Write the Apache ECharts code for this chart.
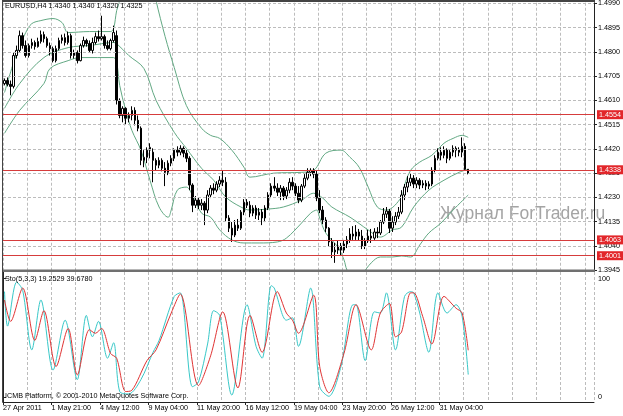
<!DOCTYPE html>
<html><head><meta charset="utf-8">
<script src="https://cdn.jsdelivr.net/npm/echarts@6/dist/echarts.min.js"></script>
<style>html,body{margin:0;padding:0;background:#fff}#c{width:623px;height:416px}</style>
</head><body><div id="c"></div>
<script>
const symbolName = 'EURUSD,H4';
const openP = [
1.4676,1.4688,1.4673,1.4665,1.4786,1.4806,1.4864,1.4825,1.4786,1.4825,
1.4837,1.4821,1.4841,1.4868,1.4852,1.4825,1.4813,1.4766,1.4813,1.4845,
1.4856,1.4837,1.4864,1.4786,1.4798,1.4766,1.4825,1.4845,1.4833,1.4806,
1.4837,1.4860,1.4852,1.4860,1.4825,1.4813,1.4845,1.4864,1.4610,1.4551,
1.4579,1.4540,1.4551,1.4571,1.4532,1.4501,1.4375,1.4387,1.4415,1.4407,
1.4375,1.4356,1.4375,1.4344,1.4328,1.4364,1.4383,1.4415,1.4407,1.4422,
1.4403,1.4383,1.4278,1.4199,1.4219,1.4199,1.4207,1.4180,1.4239,1.4266,
1.4258,1.4282,1.4297,1.4289,1.4149,1.4109,1.4082,1.4121,1.4109,1.4172,
1.4211,1.4199,1.4168,1.4188,1.4160,1.4172,1.4149,1.4188,1.4239,1.4274,
1.4266,1.4250,1.4266,1.4235,1.4258,1.4289,1.4274,1.4246,1.4219,1.4274,
1.4305,1.4328,1.4336,1.4321,1.4227,1.4180,1.4141,1.4109,1.4055,1.4016,
1.4023,1.4039,1.4023,1.4047,1.4063,1.4086,1.4078,1.4094,1.4078,1.4039,
1.4059,1.4078,1.4070,1.4094,1.4090,1.4133,1.4164,1.4176,1.4109,1.4133,
1.4156,1.4172,1.4239,1.4270,1.4289,1.4305,1.4282,1.4297,1.4278,1.4285,
1.4274,1.4282,1.4336,1.4383,1.4407,1.4395,1.4415,1.4383,1.4407,1.4422,
1.4415,1.4407,1.4430,1.4340];
const closeP = [
1.4688,1.4673,1.4665,1.4786,1.4806,1.4864,1.4825,1.4786,1.4825,1.4837,
1.4821,1.4841,1.4868,1.4852,1.4825,1.4813,1.4766,1.4813,1.4845,1.4856,
1.4837,1.4864,1.4786,1.4798,1.4766,1.4825,1.4845,1.4833,1.4806,1.4837,
1.4860,1.4852,1.4860,1.4825,1.4813,1.4845,1.4876,1.4610,1.4551,1.4579,
1.4540,1.4551,1.4571,1.4532,1.4501,1.4375,1.4387,1.4415,1.4426,1.4375,
1.4356,1.4375,1.4344,1.4328,1.4364,1.4383,1.4415,1.4407,1.4422,1.4403,
1.4383,1.4278,1.4199,1.4219,1.4199,1.4207,1.4180,1.4239,1.4266,1.4258,
1.4282,1.4297,1.4289,1.4149,1.4109,1.4082,1.4121,1.4109,1.4172,1.4211,
1.4199,1.4168,1.4188,1.4160,1.4172,1.4149,1.4188,1.4239,1.4274,1.4266,
1.4250,1.4266,1.4235,1.4258,1.4289,1.4274,1.4246,1.4219,1.4274,1.4305,
1.4328,1.4336,1.4321,1.4227,1.4180,1.4141,1.4109,1.4055,1.4016,1.4023,
1.4039,1.4023,1.4047,1.4063,1.4086,1.4078,1.4094,1.4078,1.4039,1.4059,
1.4078,1.4070,1.4094,1.4090,1.4133,1.4164,1.4176,1.4109,1.4133,1.4156,
1.4172,1.4239,1.4270,1.4289,1.4305,1.4282,1.4297,1.4278,1.4285,1.4274,
1.4282,1.4336,1.4383,1.4407,1.4395,1.4415,1.4383,1.4407,1.4422,1.4415,
1.4407,1.4430,1.4340,1.4325];
const lowP = [
1.4669,1.4665,1.4630,1.4657,1.4774,1.4798,1.4813,1.4778,1.4778,1.4813,
1.4809,1.4817,1.4833,1.4837,1.4817,1.4786,1.4759,1.4759,1.4806,1.4833,
1.4825,1.4829,1.4774,1.4774,1.4755,1.4763,1.4817,1.4821,1.4798,1.4794,
1.4829,1.4841,1.4845,1.4813,1.4806,1.4806,1.4837,1.4594,1.4540,1.4524,
1.4516,1.4524,1.4532,1.4512,1.4489,1.4356,1.4348,1.4364,1.4383,1.4289,
1.4336,1.4344,1.4332,1.4274,1.4317,1.4352,1.4372,1.4391,1.4395,1.4387,
1.4368,1.4258,1.4172,1.4188,1.4184,1.4180,1.4121,1.4168,1.4227,1.4242,
1.4250,1.4270,1.4274,1.4137,1.4094,1.4055,1.4074,1.4098,1.4102,1.4160,
1.4188,1.4152,1.4156,1.4145,1.4141,1.4121,1.4133,1.4180,1.4227,1.4254,
1.4235,1.4219,1.4219,1.4223,1.4246,1.4258,1.4235,1.4207,1.4211,1.4266,
1.4297,1.4313,1.4305,1.4215,1.4168,1.4125,1.4094,1.4039,1.3992,1.3973,
1.4008,1.4000,1.4012,1.4031,1.4051,1.4063,1.4063,1.4059,1.4027,1.4027,
1.4051,1.4051,1.4063,1.4070,1.4082,1.4125,1.4149,1.4090,1.4094,1.4121,
1.4145,1.4164,1.4219,1.4250,1.4274,1.4266,1.4266,1.4262,1.4266,1.4258,
1.4262,1.4274,1.4328,1.4375,1.4375,1.4383,1.4364,1.4375,1.4391,1.4387,
1.4391,1.4387,1.4336,1.4320];
const highP = [
1.4696,1.4700,1.4688,1.4798,1.4825,1.4884,1.4876,1.4845,1.4833,1.4852,
1.4845,1.4856,1.4884,1.4880,1.4860,1.4837,1.4821,1.4825,1.4856,1.4868,
1.4872,1.4880,1.4872,1.4809,1.4806,1.4833,1.4860,1.4852,1.4845,1.4856,
1.4876,1.4884,1.4942,1.4868,1.4845,1.4852,1.4903,1.4884,1.4618,1.4587,
1.4583,1.4563,1.4587,1.4583,1.4551,1.4508,1.4415,1.4426,1.4442,1.4422,
1.4383,1.4387,1.4383,1.4368,1.4375,1.4395,1.4422,1.4430,1.4434,1.4430,
1.4415,1.4391,1.4285,1.4235,1.4231,1.4223,1.4215,1.4258,1.4278,1.4285,
1.4293,1.4313,1.4336,1.4309,1.4160,1.4133,1.4141,1.4145,1.4180,1.4223,
1.4223,1.4215,1.4199,1.4199,1.4188,1.4184,1.4199,1.4250,1.4285,1.4309,
1.4285,1.4278,1.4274,1.4270,1.4305,1.4309,1.4285,1.4274,1.4282,1.4321,
1.4344,1.4344,1.4344,1.4336,1.4258,1.4196,1.4152,1.4113,1.4070,1.4051,
1.4059,1.4051,1.4063,1.4078,1.4109,1.4117,1.4121,1.4106,1.4102,1.4070,
1.4102,1.4106,1.4109,1.4113,1.4141,1.4188,1.4192,1.4184,1.4156,1.4172,
1.4192,1.4258,1.4282,1.4313,1.4325,1.4317,1.4309,1.4305,1.4297,1.4297,
1.4293,1.4348,1.4395,1.4422,1.4426,1.4430,1.4422,1.4415,1.4434,1.4430,
1.4426,1.4465,1.4442,1.4340];

// Bollinger bands: [bar index, price]
const bbUpper = [[0,1.4641],[4,1.4794],[7,1.4876],[9,1.4911],[12,1.4923],[16,1.4931],[19,1.4915],[21,1.4876],[28,1.4880],[35,1.4880],[36,1.4892],[37,1.4962],[38,1.5001],[40,1.5118],[43,1.5197],[46,1.5138],[49,1.5060],[50,1.5001],[53,1.4860],[56,1.4739],[60,1.4590],[65,1.4501],[68,1.4473],[71,1.4461],[75,1.4415],[79,1.4348],[81,1.4309],[89,1.4325],[98,1.4328],[102,1.4336],[106,1.4403],[111,1.4415],[114,1.4387],[117,1.4348],[120,1.4270],[123,1.4192],[126,1.4180],[131,1.4231],[132,1.4278],[134,1.4336],[137,1.4368],[141,1.4395],[145,1.4442],[148,1.4461],[151,1.4473],[153,1.4465]];
const bbMiddle = [[0,1.4579],[5,1.4676],[13,1.4778],[21,1.4817],[28,1.4825],[36,1.4837],[37,1.4833],[41,1.4786],[46,1.4735],[50,1.4610],[56,1.4485],[60,1.4422],[65,1.4344],[69,1.4297],[73,1.4231],[78,1.4192],[81,1.4180],[87,1.4184],[92,1.4192],[98,1.4219],[102,1.4246],[105,1.4227],[108,1.4192],[114,1.4152],[120,1.4102],[124,1.4074],[128,1.4102],[131,1.4113],[135,1.4192],[140,1.4258],[145,1.4297],[150,1.4328],[153,1.4340]];
const bbLower = [[0,1.4481],[5,1.4571],[13,1.4676],[15,1.4735],[21,1.4766],[25,1.4778],[36,1.4778],[37,1.4759],[38,1.4669],[40,1.4571],[42,1.4493],[45,1.4415],[48,1.4297],[51,1.4192],[54,1.4152],[55,1.4180],[57,1.4258],[60,1.4270],[62,1.4239],[65,1.4168],[68,1.4152],[71,1.4102],[75,1.4063],[79,1.4051],[84,1.4051],[90,1.4055],[93,1.4070],[98,1.4129],[101,1.4168],[103,1.4180],[104,1.4149],[106,1.4090],[110,1.4035],[112,1.3985],[113,1.3945],[116,1.3887],[118,1.3926],[121,1.3973],[124,1.3996],[128,1.3996],[131,1.4000],[134,1.3996],[137,1.4043],[140,1.4090],[144,1.4129],[148,1.4180],[153,1.4239]];

// Stochastic (5,3,3): [bar index, value]
const stochMain = [[0,89],[1,60],[4,97],[6,90],[9,40],[12,82],[16,23],[20,65],[24,15],[27,69],[29,51],[31,64],[34,33],[36,46],[38,5],[41,3],[45,15],[49,38],[51,48],[56,85],[58,88],[62,9],[64,13],[67,45],[69,73],[71,69],[75,2],[80,78],[83,43],[85,33],[88,94],[89,92],[93,65],[95,67],[97,43],[101,92],[104,9],[107,1],[111,26],[115,78],[116,78],[119,31],[122,72],[124,71],[126,88],[129,40],[132,85],[134,89],[135,88],[137,71],[140,38],[143,88],[146,71],[149,78],[151,68],[153,19.2529]];
const stochSignal = [[0,82],[2,64],[6,92],[10,48],[13,73],[17,26],[21,58],[24,19],[28,57],[30,54],[32,58],[35,37],[37,33],[40,5],[42,6],[47,31],[50,40],[55,71],[58,87],[64,10],[68,35],[72,72],[77,8],[81,69],[85,38],[90,89],[93,71],[95,65],[97,54],[102,86],[104,26],[107,4],[112,37],[116,78],[121,40],[124,71],[127,79],[129,51],[131,55],[134,88],[135,88],[138,68],[141,45],[145,85],[149,75],[151,71],[153,39.678]];

const levels = [1.4554, 1.4338, 1.4063, 1.4001];
const priceTicks = [1.4990, 1.4895, 1.4800, 1.4705, 1.4610, 1.4515, 1.4420, 1.4325, 1.4230, 1.4135, 1.4040, 1.3945];
const stochTicks = [0, 100];
const dateLabels = ['27 Apr 2011','1 May 21:00','4 May 12:00','9 May 04:00','11 May 20:00','16 May 12:00','19 May 04:00','23 May 20:00','26 May 12:00','31 May 04:00'];
const barsPerDateLabel = 16;
const barsPerGridLine = 8;
const slotCount = 195;

const FONT = 'Liberation Sans';
const FS = 7.2;
const cats = Array.from({length: slotCount}, (_, i) => String(i));
const candleData = openP.map((o, i) => [o, closeP[i], lowP[i], highP[i]]);
const dateTickValues = dateLabels.map((_, k) => k * barsPerDateLabel);
const last = openP.length - 1;
const header = symbolName + ' ' + [openP[last], highP[last], lowP[last], closeP[last]].map(v => v.toFixed(4)).join(' ');
const stochHeader = 'Sto(5,3,3) ' + stochMain[stochMain.length-1][1].toFixed(4) + ' ' + stochSignal[stochSignal.length-1][1].toFixed(4);

const gridStyle = {color: '#bcbcbc', type: [3, 2], width: 1};
const bandStyle = {color: '#62a883', width: 1};

const chart = echarts.init(document.getElementById('c'));
chart.setOption({
  animation: false,
  backgroundColor: '#fff',
  grid: [
    {left: 3, right: 29, top: 2, height: 268},
    {left: 3, right: 29, top: 272, height: 130}
  ],
  xAxis: [
    {type: 'category', gridIndex: 0, data: cats, boundaryGap: true, axisLine: {show: false}, axisTick: {show: false}, axisLabel: {show: false},
     splitLine: {show: true, interval: barsPerGridLine - 1, lineStyle: gridStyle}},
    {type: 'category', gridIndex: 1, data: cats, boundaryGap: true, position: 'top', axisLine: {show: false}, axisTick: {show: false}, axisLabel: {show: false},
     splitLine: {show: true, interval: barsPerGridLine - 1, lineStyle: gridStyle}},
    {type: 'value', gridIndex: 1, min: 0, max: slotCount, interval: barsPerDateLabel, position: 'bottom',
     axisLine: {show: true, lineStyle: {color: '#222', width: 1}},
     axisTick: {show: true, length: 3, customValues: dateTickValues, lineStyle: {color: '#222'}},
     axisLabel: {show: true, customValues: dateTickValues, showMinLabel: true, formatter: v => dateLabels[Math.round(v / barsPerDateLabel)] || '',
       align: 'left', margin: 3, fontSize: FS, fontFamily: FONT, color: '#000'},
     splitLine: {show: false}}
  ],
  yAxis: [
    {type: 'value', gridIndex: 0, position: 'right', min: 1.3945, max: 1.4993, scale: true,
     axisLine: {show: true, lineStyle: {color: '#222', width: 1}},
     axisTick: {show: true, length: 3, customValues: priceTicks, lineStyle: {color: '#222'}},
     axisLabel: {show: true, customValues: priceTicks, formatter: v => v.toFixed(4), margin: 4, fontSize: FS, fontFamily: FONT, color: '#000'},
     splitLine: {show: false}},
    {type: 'value', gridIndex: 1, position: 'right', min: -3.8, max: 105.5,
     axisLine: {show: true, lineStyle: {color: '#222', width: 1}},
     axisTick: {show: true, length: 3, customValues: stochTicks, lineStyle: {color: '#222'}},
     axisLabel: {show: true, customValues: stochTicks, formatter: v => String(Math.round(v)), margin: 4, fontSize: FS, fontFamily: FONT, color: '#000'},
     splitLine: {show: false}}
  ],
  series: [
    {type: 'line', name: 'upper', xAxisIndex: 0, yAxisIndex: 0, data: bbUpper, showSymbol: false, smooth: 0.35, lineStyle: bandStyle, z: 1, silent: true,
     markLine: {silent: true, precision: 4, symbol: ['none', 'none'], lineStyle: gridStyle, label: {show: false}, data: priceTicks.map(v => ({yAxis: v}))}},
    {type: 'line', name: 'middle', xAxisIndex: 0, yAxisIndex: 0, data: bbMiddle, showSymbol: false, smooth: 0.35, lineStyle: bandStyle, z: 1, silent: true},
    {type: 'line', name: 'lower', xAxisIndex: 0, yAxisIndex: 0, data: bbLower, showSymbol: false, smooth: 0.35, lineStyle: bandStyle, z: 1, silent: true},
    {type: 'candlestick', name: 'EURUSD', xAxisIndex: 0, yAxisIndex: 0, data: candleData, barWidth: 2, z: 3,
     itemStyle: {color: '#fff', color0: '#000', borderColor: '#000', borderColor0: '#000', borderWidth: 1},
     markLine: {silent: true, precision: 4, symbol: ['none', 'none'], z: 4,
       lineStyle: {color: '#d63c3c', width: 1.2, type: 'solid'},
       label: {show: true, position: 'end', distance: 3, formatter: p => Number(p.value).toFixed(4), color: '#fff', backgroundColor: '#e2262a',
         padding: [1, 2, 0, 2], fontSize: FS, fontFamily: FONT, lineHeight: 8},
       data: levels.map(v => ({yAxis: v}))}},
    {type: 'line', name: 'main', xAxisIndex: 1, yAxisIndex: 1, data: stochMain, showSymbol: false, smooth: 0.3, lineStyle: {color: '#38c8c8', width: 1}, z: 2, silent: true},
    {type: 'line', name: 'signal', xAxisIndex: 1, yAxisIndex: 1, data: stochSignal, showSymbol: false, smooth: 0.3, lineStyle: {color: '#e03434', width: 1}, z: 3, silent: true}
  ],
  graphic: [
    {type: 'rect', shape: {x: 2, y: 269.5, width: 593, height: 2.5}, style: {fill: '#707070'}, z: 10, silent: true},
    {type: 'line', shape: {x1: 2, y1: 1, x2: 595, y2: 1}, style: {stroke: '#444', lineWidth: 2}, z: 10, silent: true},
    {type: 'line', shape: {x1: 2.5, y1: 1, x2: 2.5, y2: 402.5}, style: {stroke: '#444', lineWidth: 1}, z: 10, silent: true},
    {type: 'text', left: 5, top: 3, style: {text: header, font: FS + 'px "' + FONT + '"', fill: '#000'}, z: 10, silent: true},
    {type: 'text', left: 5, top: 276, style: {text: stochHeader, font: FS + 'px "' + FONT + '"', fill: '#000'}, z: 10, silent: true},
    {type: 'text', left: 5, top: 393, style: {text: 'ICMB Platform, © 2001-2010 MetaQuotes Software Corp.', font: FS + 'px "' + FONT + '"', fill: '#000'}, z: 10, silent: true},
    {type: 'text', left: 440, top: 205, style: {text: 'Журнал ForTrader.ru', font: '17.5px "' + FONT + '"', fill: '#a4a4a4'}, z: 0, silent: true}
  ]
});
</script></body></html>
